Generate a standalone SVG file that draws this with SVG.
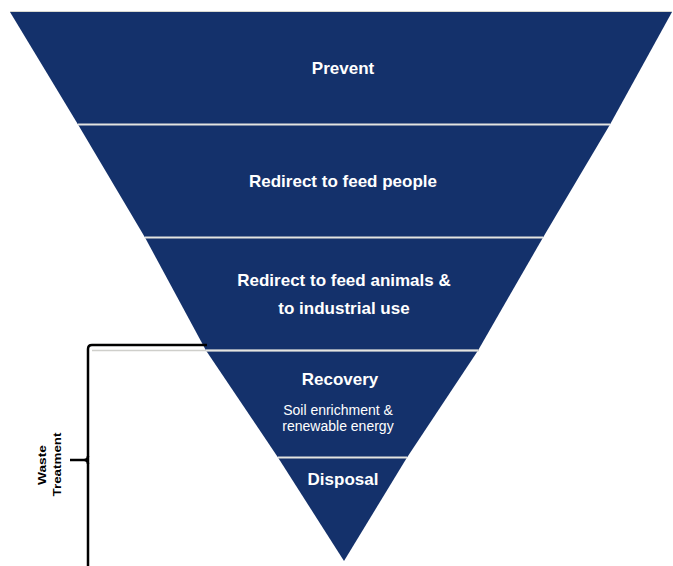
<svg xmlns="http://www.w3.org/2000/svg" width="673" height="566" viewBox="0 0 673 566">
  <style>
    .band { fill: #14316b; }
    .sep { stroke: #e4e4e0; stroke-width: 2; fill: none; }
    .title { font-family: "Liberation Sans", Arial, sans-serif; font-weight: bold; font-size: 17px; fill: #ffffff; text-anchor: middle; }
    .sub { font-family: "Liberation Sans", Arial, sans-serif; font-size: 14px; fill: #ffffff; text-anchor: middle; }
    .side { font-family: "Liberation Sans", Arial, sans-serif; font-weight: bold; font-size: 11.5px; fill: #000000; text-anchor: middle; }
    .brace { stroke: #000000; stroke-width: 2.5; fill: none; }
  </style>
  <rect width="673" height="566" fill="#ffffff"/>

  <g id="prevent">
    <polygon class="band" points="10,12 672,12 610,124.5 78,124.5"/>
    <line x1="10" y1="11.5" x2="672" y2="11.5" stroke="#d8d8d0" stroke-width="1"/>
    <text class="title" x="343" y="74">Prevent</text>
  </g>

  <g id="feed-people">
    <polygon class="band" points="78,124.5 610,124.5 543,237.5 145,237.5"/>
    <text class="title" x="343" y="187">Redirect to feed people</text>
  </g>

  <g id="feed-animals">
    <polygon class="band" points="145,237.5 543,237.5 478,350.5 206,350.5"/>
    <text class="title" x="344" y="286">Redirect to feed animals &amp;</text>
    <text class="title" x="344" y="314">to industrial use</text>
  </g>

  <g id="recovery">
    <polygon class="band" points="206,350.5 478,350.5 407,457.5 278,457.5"/>
    <text class="title" x="340" y="385">Recovery</text>
    <text class="sub" x="338" y="415">Soil enrichment &amp;</text>
    <text class="sub" x="338" y="431">renewable energy</text>
  </g>

  <g id="disposal">
    <polygon class="band" points="278,457.5 407,457.5 344,561"/>
    <text class="title" x="343" y="485">Disposal</text>
  </g>

  <g id="connectors">
    <line class="sep" x1="78" y1="124.5" x2="610" y2="124.5"/>
    <line class="sep" x1="145" y1="237.5" x2="543" y2="237.5"/>
    <line x1="92" y1="350.5" x2="479" y2="350.5" stroke="#cfcfcb" stroke-width="1.5"/>
    <line x1="206" y1="350.5" x2="478" y2="350.5" class="sep"/>
    <line class="sep" x1="278" y1="457.5" x2="407" y2="457.5"/>
  </g>

  <g id="waste-treatment">
    <path class="brace" d="M207 345 H92 Q88 345 88 349 V566"/>
    <path class="brace" d="M70 460 H84 Q88 460 88 456 M84 460 Q88 460 88 464"/>
    <text class="side" transform="translate(45.5,465) rotate(-90)" textLength="40" lengthAdjust="spacingAndGlyphs" x="0" y="0">Waste</text>
    <text class="side" transform="translate(61,464.5) rotate(-90)" textLength="64" lengthAdjust="spacingAndGlyphs" x="0" y="0">Treatment</text>
  </g>
</svg>
